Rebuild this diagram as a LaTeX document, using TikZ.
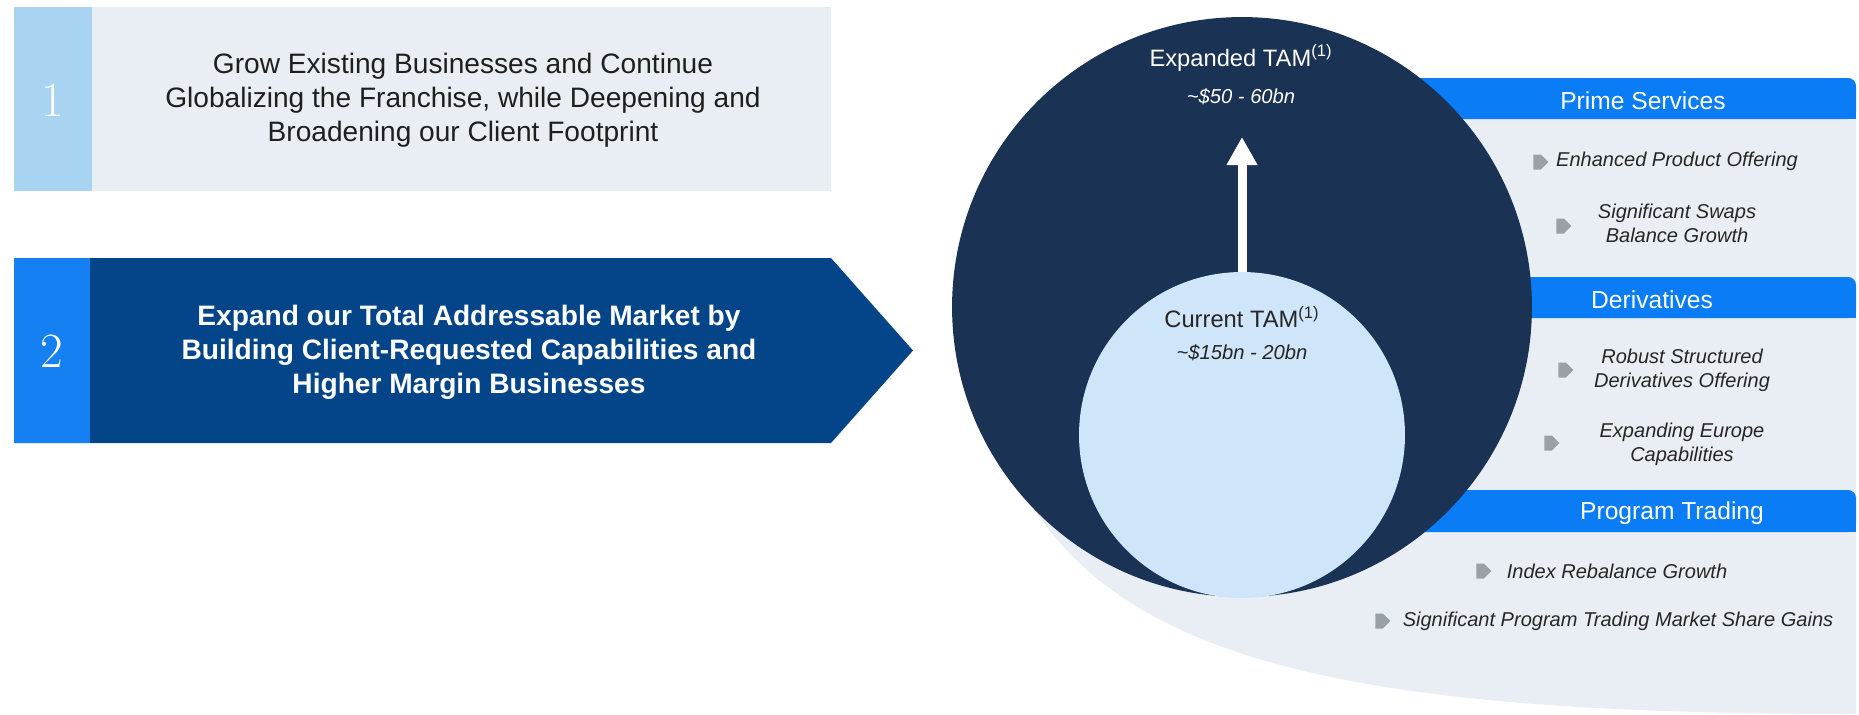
\documentclass[tikz,border=0pt]{standalone}
\usepackage{fontspec}
\setsansfont{Liberation Sans}
\usepackage{xcolor}
\usepackage{tikz}
\usetikzlibrary{shapes.symbols, arrows.meta, positioning}

\definecolor{boxgray}{RGB}{233,238,245}
\definecolor{bandlight}{RGB}{168,212,242}
\definecolor{bandbright}{RGB}{20,128,242}
\definecolor{navybox}{RGB}{4,69,138}
\definecolor{tamdark}{RGB}{26,50,84}
\definecolor{tamlight}{RGB}{207,229,249}
\definecolor{hdrblue}{RGB}{10,124,245}
\definecolor{bulletgray}{RGB}{154,160,168}
\definecolor{offertext}{RGB}{38,38,38}

\begin{document}
\begin{tikzpicture}[x=0.02cm, y=-0.02cm]
    % Define styles
    \tikzstyle{goaltext} = [font=\sffamily\fontsize{16}{19.3}\selectfont, align=center, inner sep=0]
    \tikzstyle{goalnum} = [font=\rmfamily\fontsize{28}{28}\selectfont, text=white, inner sep=0]
    \tikzstyle{tamcircle} = [circle, inner sep=0]
    \tikzstyle{tamlabel} = [font=\sffamily\fontsize{13.5}{16}\selectfont, inner sep=0]
    \tikzstyle{tamvalue} = [font=\sffamily\itshape\fontsize{11.5}{14}\selectfont, inner sep=0]
    \tikzstyle{hdrlabel} = [font=\sffamily\fontsize{14}{16}\selectfont, text=white, inner sep=0]
    \tikzstyle{offering} = [font=\sffamily\itshape\fontsize{11.4}{13.7}\selectfont, text=offertext, align=center, inner sep=0]
    \tikzstyle{bulletmark} = [signal, signal to=east, fill=bulletgray, minimum width=0.3cm, minimum height=0.3cm, inner sep=0]

    \useasboundingbox (0,0) rectangle (1859,714);

    % Goal 1
    \fill[boxgray] (14,7) rectangle (831,191);
    \fill[bandlight] (14,7) rectangle (92,191);
    \node[goalnum] (num1) at (53,100) {1};
    \node[goaltext, text=black!88] (goal1) at (463,100) {Grow Existing Businesses and Continue\\Globalizing the Franchise, while Deepening and\\Broadening our Client Footprint};

    % Goal 2 (arrow box)
    \fill[navybox] (14,258) -- (831,258) -- (913,350.5) -- (831,443) -- (14,443) -- cycle;
    \fill[bandbright] (14,258) rectangle (90,443);
    \node[goalnum] (num2) at (52,351) {2};
    \node[goaltext, font=\sffamily\bfseries\fontsize{16}{19.3}\selectfont, text=white] (goal2) at (469,352) {Expand our Total Addressable Market by\\Building Client-Requested Capabilities and\\Higher Margin Businesses};

    % Business panel background
    \fill[boxgray] (1242,100) -- (1856,100) -- (1856,714) .. controls (1330,714) and (1080,660) .. (1000,440) -- (1242,307) -- cycle;

    % Panel headers
    \fill[hdrblue, rounded corners=4.5pt] (1300,78) rectangle (1856,119);
    \fill[hdrblue] (1300,100) rectangle (1856,119);
    \fill[hdrblue, rounded corners=4.5pt] (1300,277) rectangle (1856,318);
    \fill[hdrblue] (1300,300) rectangle (1856,318);
    \fill[hdrblue, rounded corners=4.5pt] (1300,490) rectangle (1856,532);
    \fill[hdrblue] (1300,512) rectangle (1856,532);

    % TAM circles
    \node[tamcircle, fill=tamdark, minimum size=11.6cm] (exptam) at (1242,307) {};
    \node[tamcircle, fill=tamlight, minimum size=6.52cm] (curtam) at (1242,435) {};
    \coordinate (arrowtip) at (1242,137);
    \draw[white, line width=0.18cm, -{Triangle[width=0.58cm, length=0.56cm]}] (curtam.north) -- (arrowtip);

    \node[tamlabel, text=white] (explbl) at (1241,58) {Expanded TAM\textsuperscript{(1)}};
    \node[tamvalue, text=white] (expval) at (1241,97) {\textasciitilde\$50 - 60bn};
    \node[tamlabel, text=offertext] (curlbl) at (1242,317) {Current TAM\textsuperscript{(1)}};
    \node[tamvalue, text=offertext] (curval) at (1242,353) {\textasciitilde\$15bn - 20bn};

    % Header labels
    \node[hdrlabel] (primelbl) at (1643,101) {Prime Services};
    \node[hdrlabel] (derivlbl) at (1652,300) {Derivatives};
    \node[hdrlabel] (progtrlbl) at (1672,513) {Program Trading};

    % Prime Services items
    \node[bulletmark] (b1) at (1537,162) {};
    \node[offering] (enhanced) at (1677,161) {Enhanced Product Offering};
    \node[bulletmark] (b2) at (1560,226) {};
    \node[offering] (swaps) at (1677,223) {Significant Swaps\\Balance Growth};

    % Derivatives items
    \node[bulletmark] (b3) at (1562,370) {};
    \node[offering] (robust) at (1682,370) {Robust Structured\\Derivatives Offering};
    \node[bulletmark] (b4) at (1548,443) {};
    \node[offering] (europe) at (1682,444) {Expanding Europe\\Capabilities};

    % Program Trading items
    \node[bulletmark] (b5) at (1480,571) {};
    \node[offering] (rebal) at (1617,571) {Index Rebalance Growth};
    \node[bulletmark] (b6) at (1379,621) {};
    \node[offering] (share) at (1618,621) {Significant Program Trading Market Share Gains};
\end{tikzpicture}
\end{document}
